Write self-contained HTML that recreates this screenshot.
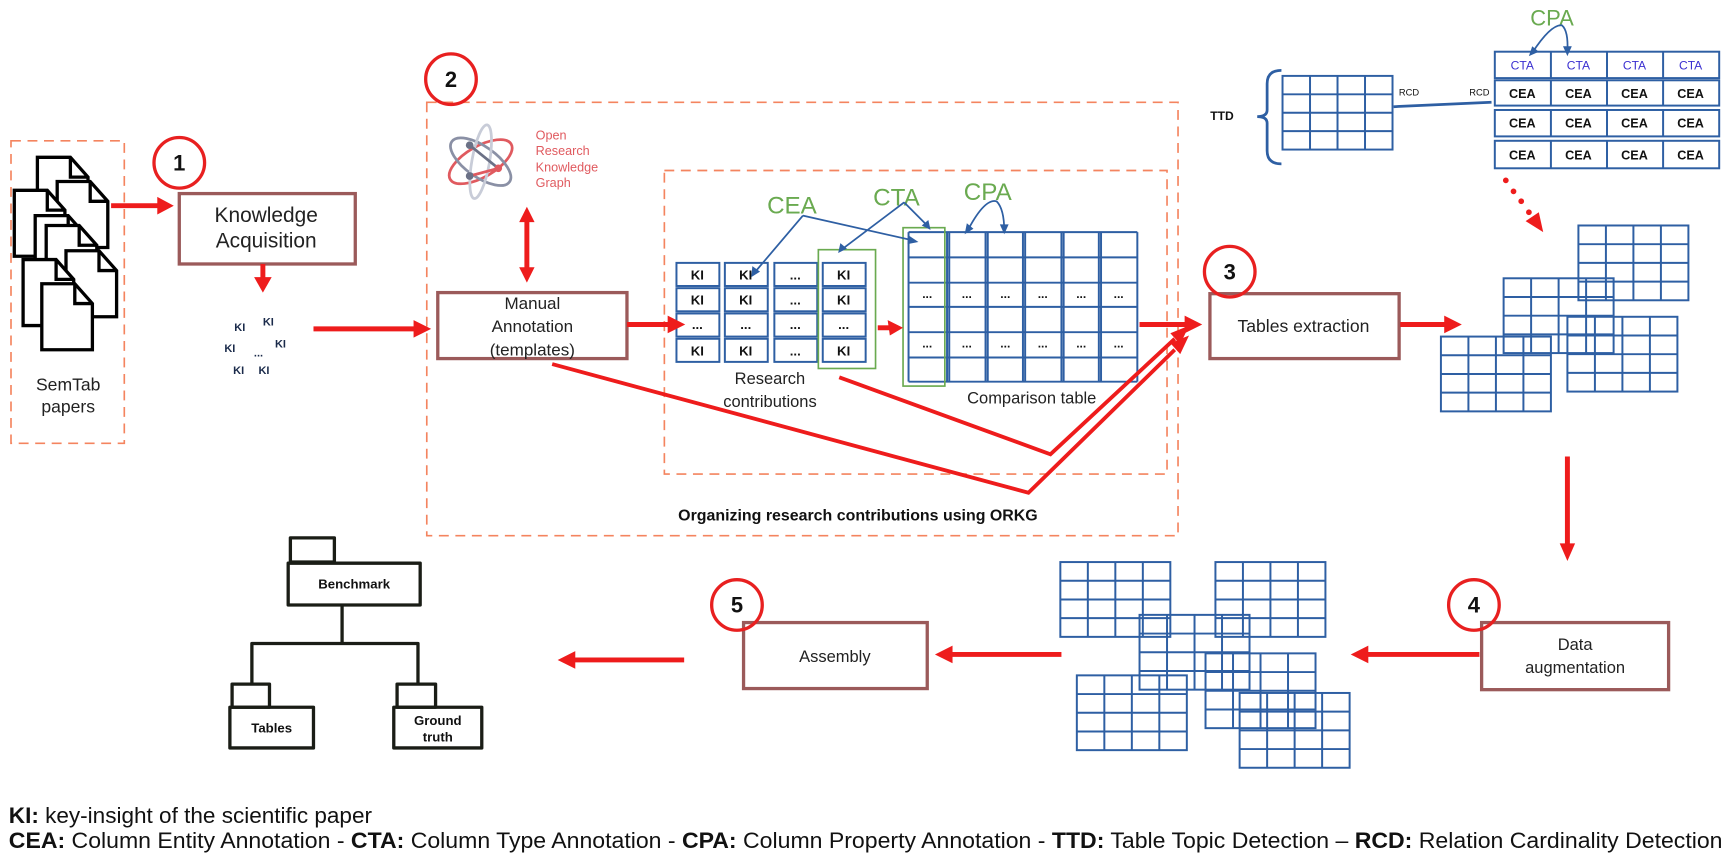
<!DOCTYPE html>
<html><head><meta charset="utf-8"><style>
html,body{margin:0;padding:0;background:#fff;}
svg{display:block;}
text{font-family:"Liberation Sans",sans-serif;}
</style></head><body>
<svg width="1728" height="864" viewBox="0 0 1571 785.5" preserveAspectRatio="none" xmlns="http://www.w3.org/2000/svg">
<defs>
<g id="t44" fill="none" stroke="#2e5fa3" stroke-width="1.8">
<rect x="0" y="0" width="100" height="68"/>
<path d="M25 0V68M50 0V68M75 0V68M0 17H100M0 34H100M0 51H100"/>
</g>
<g id="page">
<path d="M0 0H30L46 18V60H0Z" fill="#fff" stroke="#000" stroke-width="3" stroke-linejoin="miter"/>
<path d="M30 0V18H46" fill="none" stroke="#000" stroke-width="3"/>
</g>
</defs>

<g fill="none" stroke="#f4845f" stroke-width="1.5" stroke-dasharray="9 6">
<rect x="10" y="128" width="103" height="275"/>
<rect x="388" y="93" width="683" height="394"/>
<rect x="604" y="155" width="457" height="276"/>
</g>

<use href="#page" x="34" y="143"/>
<use href="#page" x="52" y="165"/>
<use href="#page" x="13" y="173"/>
<use href="#page" x="32" y="196"/>
<use href="#page" x="42" y="205"/>
<use href="#page" x="60" y="228"/>
<use href="#page" x="21" y="236"/>
<use href="#page" x="38" y="258"/>
<text x="62" y="355" font-size="16" text-anchor="middle" fill="#222">SemTab</text>
<text x="62" y="375" font-size="16" text-anchor="middle" fill="#222">papers</text>

<g fill="none" stroke="#9b5a5a" stroke-width="3">
<rect x="163" y="176" width="160" height="64"/>
<rect x="398" y="266" width="172" height="60"/>
<rect x="1100" y="267" width="172" height="59"/>
<rect x="1347" y="566" width="170" height="61"/>
<rect x="676" y="566" width="167" height="60"/>
</g>
<text x="242" y="202" font-size="19" text-anchor="middle" fill="#222">Knowledge</text>
<text x="242" y="225" font-size="19" text-anchor="middle" fill="#222">Acquisition</text>
<text x="484" y="281" font-size="15.5" text-anchor="middle" fill="#222">Manual</text>
<text x="484" y="302" font-size="15.5" text-anchor="middle" fill="#222">Annotation</text>
<text x="484" y="323" font-size="15.5" text-anchor="middle" fill="#222">(templates)</text>
<text x="1185" y="302" font-size="16" text-anchor="middle" fill="#222">Tables extraction</text>
<text x="1432" y="591" font-size="15" text-anchor="middle" fill="#222">Data</text>
<text x="1432" y="612" font-size="15" text-anchor="middle" fill="#222">augmentation</text>
<text x="759" y="602" font-size="15" text-anchor="middle" fill="#222">Assembly</text>

<g fill="none" stroke="#e82020" stroke-width="3">
<circle cx="163" cy="148" r="23"/>
<circle cx="410" cy="72" r="23"/>
<circle cx="1118" cy="247" r="23"/>
<circle cx="1340" cy="550" r="23"/>
<circle cx="670" cy="550" r="23"/>
</g>
<g font-size="20" font-weight="bold" text-anchor="middle" fill="#111">
<text x="163" y="155">1</text>
<text x="410" y="79">2</text>
<text x="1118" y="254">3</text>
<text x="1340" y="557">4</text>
<text x="670" y="557">5</text>
</g>

<g font-size="10" font-weight="bold" fill="#1a2a4a" text-anchor="middle">
<text x="218" y="301">KI</text><text x="244" y="296">KI</text>
<text x="209" y="320">KI</text><text x="255" y="316">KI</text>
<text x="235" y="324">...</text>
<text x="217" y="340">KI</text><text x="240" y="340">KI</text>
</g>

<g fill="none" stroke-width="2.5">
<ellipse cx="437" cy="147" rx="32" ry="14" transform="rotate(-30 437 147)" stroke="#e05a5f"/>
<ellipse cx="437" cy="147" rx="32" ry="14" transform="rotate(35 437 147)" stroke="#8a90a5"/>
<ellipse cx="437" cy="147" rx="8" ry="34" transform="rotate(10 437 147)" stroke="#c8ccd8"/>
<path d="M427 132L453 153" stroke="#6b7186"/>
<path d="M427 160L453 153" stroke="#e05a5f"/>
</g>
<circle cx="427" cy="132" r="3.5" fill="#6b7186"/><circle cx="453" cy="153" r="3.5" fill="#e05a5f"/><circle cx="427" cy="160" r="3.5" fill="#6b7186"/>
<g font-size="11.5" fill="#e05a5f">
<text x="487" y="127">Open</text><text x="487" y="141">Research</text><text x="487" y="156">Knowledge</text><text x="487" y="170">Graph</text>
</g>

<g fill="none" stroke="#2e5fa3" stroke-width="1.8">
<rect x="615" y="239" width="39" height="21"/><rect x="615" y="262" width="39" height="21"/><rect x="615" y="285" width="39" height="21"/><rect x="615" y="308" width="39" height="21"/>
<rect x="659" y="239" width="39" height="21"/><rect x="659" y="262" width="39" height="21"/><rect x="659" y="285" width="39" height="21"/><rect x="659" y="308" width="39" height="21"/>
<rect x="704" y="239" width="39" height="21"/><rect x="704" y="262" width="39" height="21"/><rect x="704" y="285" width="39" height="21"/><rect x="704" y="308" width="39" height="21"/>
<rect x="748" y="239" width="39" height="21"/><rect x="748" y="262" width="39" height="21"/><rect x="748" y="285" width="39" height="21"/><rect x="748" y="308" width="39" height="21"/>
</g>
<rect x="744" y="227" width="52" height="108" fill="none" stroke="#6aaa50" stroke-width="1.5"/>
<g font-size="12" font-weight="bold" fill="#111" text-anchor="middle">
<text x="634" y="254">KI</text><text x="634" y="277">KI</text><text x="634" y="299">...</text><text x="634" y="323">KI</text>
<text x="678" y="254">KI</text><text x="678" y="277">KI</text><text x="678" y="299">...</text><text x="678" y="323">KI</text>
<text x="723" y="254">...</text><text x="723" y="277">...</text><text x="723" y="299">...</text><text x="723" y="323">...</text>
<text x="767" y="254">KI</text><text x="767" y="277">KI</text><text x="767" y="299">...</text><text x="767" y="323">KI</text>
</g>
<text x="700" y="349" font-size="15" text-anchor="middle" fill="#222">Research</text>
<text x="700" y="370" font-size="15" text-anchor="middle" fill="#222">contributions</text>

<g fill="none" stroke="#2e5fa3" stroke-width="1.8">
<path d="M826 211H1034M826 234H1034M826 257H1034M826 279H1034M826 302H1034M826 325H1034M826 347H1034"/>
<path d="M826 211V347M861 211V347M863 211V347M896 211V347M898 211V347M930 211V347M932 211V347M965 211V347M967 211V347M999 211V347M1001 211V347M1034 211V347"/>
</g>
<rect x="821" y="207" width="38" height="144" fill="none" stroke="#6aaa50" stroke-width="1.5"/>
<g font-size="11" font-weight="bold" fill="#111" text-anchor="middle">
<text x="843" y="271">...</text><text x="879" y="271">...</text><text x="914" y="271">...</text><text x="948" y="271">...</text><text x="983" y="271">...</text><text x="1017" y="271">...</text>
<text x="843" y="316">...</text><text x="879" y="316">...</text><text x="914" y="316">...</text><text x="948" y="316">...</text><text x="983" y="316">...</text><text x="1017" y="316">...</text>
</g>
<text x="938" y="367" font-size="15" text-anchor="middle" fill="#222">Comparison table</text>

<g font-size="22" fill="#6aaa50" text-anchor="middle">
<text x="720" y="194">CEA</text><text x="815" y="187">CTA</text><text x="898" y="182">CPA</text>
</g>
<g fill="none" stroke="#2e5fa3" stroke-width="1.6">
<path d="M730 196L685 249M730 196L832 219M822 184L765 227M822 184L844 206M879 211Q895 180 906 183Q913 190 913 210"/>
</g>
<g fill="#2e5fa3">
<polygon points="683,252 684,242 691,247"/>
<polygon points="835,220 826,214 825,222"/>
<polygon points="762,230 764,221 770,226"/>
<polygon points="846,209 838,205 844,200"/>
<polygon points="877,213 879,203 885,208"/>
<polygon points="913,213 909,204 917,204"/>
</g>

<text x="1111" y="109" font-size="11" font-weight="bold" text-anchor="middle" fill="#111">TTD</text>
<path d="M1165 64Q1152 64 1152 76V100Q1152 106 1143 106Q1152 106 1152 112V137Q1152 149 1165 149" fill="none" stroke="#2e5fa3" stroke-width="2.5"/>
<use href="#t44" transform="translate(1166 69) scale(1 0.985)"/>
<text x="1281" y="87" font-size="8.5" text-anchor="middle" fill="#111">RCD</text>
<text x="1345" y="87" font-size="8.5" text-anchor="middle" fill="#111">RCD</text>
<path d="M1267 97L1356 93" stroke="#2e5fa3" stroke-width="2.5"/>
<g fill="none" stroke="#2e5fa3" stroke-width="1.8">
<rect x="1359" y="47" width="204" height="24"/>
<path d="M1410 47V71M1461 47V71M1512 47V71"/>
<rect x="1359" y="73" width="204" height="23"/><path d="M1410 73V96M1461 73V96M1512 73V96"/>
<rect x="1359" y="100" width="204" height="24"/><path d="M1410 100V124M1461 100V124M1512 100V124"/>
<rect x="1359" y="128" width="204" height="25"/><path d="M1410 128V153M1461 128V153M1512 128V153"/>
</g>
<g font-size="11" fill="#3a2fd0" text-anchor="middle">
<text x="1384" y="63">CTA</text><text x="1435" y="63">CTA</text><text x="1486" y="63">CTA</text><text x="1537" y="63">CTA</text>
</g>
<g font-size="11.5" font-weight="bold" fill="#111" text-anchor="middle">
<text x="1384" y="89">CEA</text><text x="1435" y="89">CEA</text><text x="1486" y="89">CEA</text><text x="1537" y="89">CEA</text>
<text x="1384" y="116">CEA</text><text x="1435" y="116">CEA</text><text x="1486" y="116">CEA</text><text x="1537" y="116">CEA</text>
<text x="1384" y="145">CEA</text><text x="1435" y="145">CEA</text><text x="1486" y="145">CEA</text><text x="1537" y="145">CEA</text>
</g>
<text x="1411" y="23" font-size="20" fill="#6aaa50" text-anchor="middle">CPA</text>
<path d="M1393 48Q1410 22 1420 23Q1426 28 1425 47" fill="none" stroke="#2e5fa3" stroke-width="1.6"/>
<polygon points="1390,51 1393,42 1399,47" fill="#2e5fa3"/>
<polygon points="1425,51 1421,42 1429,42" fill="#2e5fa3"/>

<g fill="#ee1c1c">
<circle cx="1369" cy="164" r="2.6"/><circle cx="1376" cy="174" r="2.6"/><circle cx="1383" cy="183" r="2.6"/><circle cx="1390" cy="193" r="2.6"/>
<polygon points="1403,211 1387,201 1399,193"/>
</g>

<use href="#t44" x="1435" y="205"/>
<use href="#t44" x="1367" y="253"/>
<use href="#t44" x="1425" y="288"/>
<use href="#t44" x="1310" y="306"/>

<use href="#t44" x="964" y="511"/>
<use href="#t44" x="1105" y="511"/>
<use href="#t44" x="1036" y="559"/>
<use href="#t44" x="979" y="614"/>
<use href="#t44" x="1096" y="594"/>
<use href="#t44" x="1127" y="630"/>

<g fill="none" stroke="#1a1d16" stroke-width="3" stroke-linejoin="round">
<rect x="264" y="489" width="40" height="22"/>
<rect x="262" y="512" width="120" height="38"/>
<path d="M311 550V585M229 622V585H380V622"/>
<rect x="211" y="622" width="34" height="21"/>
<rect x="209" y="643" width="76" height="37"/>
<rect x="361" y="622" width="35" height="21"/>
<rect x="358" y="643" width="80" height="37"/>
</g>
<text x="322" y="535" font-size="12" font-weight="bold" text-anchor="middle" fill="#111">Benchmark</text>
<text x="247" y="666" font-size="12" font-weight="bold" text-anchor="middle" fill="#111">Tables</text>
<text x="398" y="659" font-size="12" font-weight="bold" text-anchor="middle" fill="#111">Ground</text>
<text x="398" y="674" font-size="12" font-weight="bold" text-anchor="middle" fill="#111">truth</text>

<g stroke="#ee1c1c" stroke-width="4.5" fill="none">
<path d="M101 187H145"/>
<path d="M239 240V254"/>
<path d="M285 299H378"/>
<path d="M479 200V245"/>
<path d="M570 295H610"/>
<path d="M798 298H810"/>
<path d="M1036 295H1080"/>
<path d="M1273 295H1315"/>
<path d="M1425 415V495"/>
<path d="M1345 595H1242"/>
<path d="M965 595H864"/>
<path d="M622 600H521"/>
<path d="M502 331L935 448L1068 318" stroke-width="3.5"/>
<path d="M763 343L955 413L1068 308" stroke-width="3.5"/>
</g>
<g fill="#ee1c1c">
<polygon points="158,187 143,179 143,195"/>
<polygon points="239,266 231,252 247,252"/>
<polygon points="392,299 376,291 376,307"/>
<polygon points="479,188 472,202 486,202"/>
<polygon points="479,257 472,243 486,243"/>
<polygon points="623,295 607,287 607,303"/>
<polygon points="821,298 807,291 809,305"/>
<polygon points="1093,295 1077,287 1077,303"/>
<polygon points="1329,295 1313,287 1313,303"/>
<polygon points="1425,510 1418,494 1432,494"/>
<polygon points="1228,595 1244,587 1244,603"/>
<polygon points="850,595 866,587 866,603"/>
<polygon points="507,600 523,592 523,608"/>
<polygon points="1081,305 1064,312 1073,322"/>
<polygon points="1081,296 1064,303 1073,313"/>
</g>

<text x="780" y="473" font-size="14.5" font-weight="bold" text-anchor="middle" fill="#111">Organizing research contributions using ORKG</text>

<text x="8" y="748" font-size="20.5" fill="#111"><tspan font-weight="bold">KI:</tspan> key-insight of the scientific paper</text>
<text x="8" y="771" font-size="20.5" fill="#111" textLength="1558" lengthAdjust="spacingAndGlyphs"><tspan font-weight="bold">CEA:</tspan> Column Entity Annotation - <tspan font-weight="bold">CTA:</tspan> Column Type Annotation - <tspan font-weight="bold">CPA:</tspan> Column Property Annotation - <tspan font-weight="bold">TTD:</tspan> Table Topic Detection – <tspan font-weight="bold">RCD:</tspan> Relation Cardinality Detection</text>
</svg>
</body></html>
